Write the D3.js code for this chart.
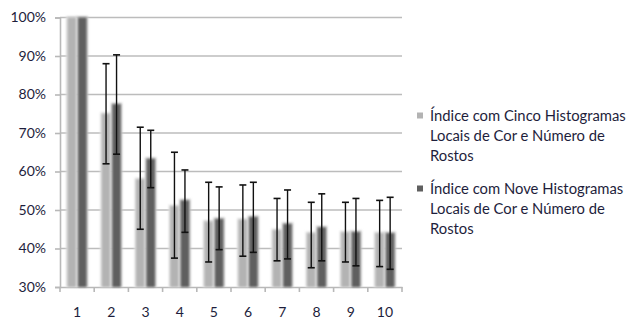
<!DOCTYPE html>
<html><head><meta charset="utf-8">
<script src="https://cdn.jsdelivr.net/npm/d3@7"></script>
<style>body{margin:0;background:#fff}svg{display:block}text{font-family:Lato,"Open Sans",sans-serif}</style>
</head><body><svg id="c" width="633" height="322"></svg>
<script>
const categories = ["1","2","3","4","5","6","7","8","9","10"];
const seriesNames = [
  ["Índice com Cinco Histogramas","Locais de Cor e Número de","Rostos"],
  ["Índice com Nove Histogramas","Locais de Cor e Número de","Rostos"]
];
const cincoValues = [100, 75, 58, 51, 47, 47.5, 44.8, 44, 44.2, 44];
const cincoLow    = [100, 62, 45, 37.5, 36.5, 38, 36.8, 35, 36.5, 35.3];
const cincoHigh   = [100, 88, 71.5, 65, 57.2, 56.5, 53, 52, 52, 52.5];
const noveValues  = [100, 77.5, 63.3, 52.5, 47.7, 48.2, 46.4, 45.5, 44.3, 44];
const noveLow     = [100, 64.5, 55.8, 44.2, 39.7, 39, 37.3, 36.8, 35.5, 34.6];
const noveHigh    = [100, 90.3, 70.7, 60.4, 56, 57.2, 55.2, 54.2, 53, 53.3];
const yTicks = [30, 40, 50, 60, 70, 80, 90, 100];

const svg = d3.select("#c");
const x = d3.scaleBand().domain(categories).range([60, 402]).padding(0);
const y = d3.scaleLinear().domain([30, 100]).range([287, 17.5]);

const defs = svg.append("defs");
defs.append("filter").attr("id","soft").attr("x","-50%").attr("width","200%")
  .append("feGaussianBlur").attr("stdDeviation", 0.8);

// gridlines
svg.append("g").selectAll("line").data(yTicks.filter(d => d > 30)).join("line")
  .attr("x1", 60).attr("x2", 402).attr("y1", d => y(d)).attr("y2", d => y(d))
  .attr("stroke", "#bcbcbc").attr("stroke-width", 1.6);

// y axis
const yAxis = d3.axisLeft(y).tickValues(yTicks).tickFormat(d => d + "%").tickSize(5).tickPadding(9);
const gy = svg.append("g").attr("transform","translate(60,0)").call(yAxis);
gy.select(".domain").attr("stroke","#b8b8b8").attr("stroke-width",1.6);
gy.selectAll(".tick line").attr("stroke","#b8b8b8").attr("stroke-width",1.6);
gy.selectAll("text").attr("fill","#1e1e3c").style("font-size","14px");

// x axis
const xAxis = d3.axisBottom(x).tickSize(0).tickPadding(20);
const gx = svg.append("g").attr("transform","translate(0,287)").call(xAxis);
gx.select(".domain").attr("stroke","#b8b8b8").attr("stroke-width",1.6);
gx.selectAll("text").attr("fill","#1e1e3c").style("font-size","14px");
svg.append("g").selectAll("line").data(d3.range(categories.length + 1)).join("line")
  .attr("x1", i => 60 + i * x.bandwidth()).attr("x2", i => 60 + i * x.bandwidth())
  .attr("y1", 287).attr("y2", 292).attr("stroke","#b8b8b8").attr("stroke-width",1.6);

const series = [
  {vals: cincoValues, lo: cincoLow, hi: cincoHigh, color: "#b3b3b3", glow: "#e2e2e2", off: -9.5},
  {vals: noveValues, lo: noveLow, hi: noveHigh, color: "#5f5f5f", glow: "#d0d0d0", off: 1}
];
const bw = 8.5;
series.forEach(s => {
  const g = svg.append("g");
  const data = categories.map((c, i) => ({c, v: s.vals[i], lo: s.lo[i], hi: s.hi[i]}));
  g.selectAll("rect.glow").data(data).join("rect").attr("class","glow")
    .attr("x", d => x(d.c) + x.bandwidth()/2 + s.off - 1.5).attr("width", bw + 3)
    .attr("y", d => y(d.v) - 1.5).attr("height", d => y(30) - y(d.v) + 1.5)
    .attr("fill", s.glow).attr("filter","url(#soft)");
  g.selectAll("rect.bar").data(data).join("rect").attr("class","bar")
    .attr("x", d => x(d.c) + x.bandwidth()/2 + s.off).attr("width", bw)
    .attr("y", d => y(d.v)).attr("height", d => y(30) - y(d.v))
    .attr("fill", s.color).attr("filter","url(#soft)");
});
series.forEach(s => {
  const g = svg.append("g");
  const data = categories.map((c, i) => ({c, v: s.vals[i], lo: s.lo[i], hi: s.hi[i]})).filter(d => d.hi > d.lo);
  const cx = d => x(d.c) + x.bandwidth()/2 + s.off + bw/2;
  g.selectAll("line.v").data(data).join("line").attr("class","v")
    .attr("x1", cx).attr("x2", cx).attr("y1", d => y(d.hi)).attr("y2", d => y(d.lo))
    .attr("stroke","#111").attr("stroke-width",1.4);
  ["hi","lo"].forEach(k => {
    g.selectAll("line." + k).data(data).join("line").attr("class", k)
      .attr("x1", d => cx(d) - 3.5).attr("x2", d => cx(d) + 3.5)
      .attr("y1", d => y(d[k])).attr("y2", d => y(d[k]))
      .attr("stroke","#111").attr("stroke-width",1.6);
  });
});

// legend
const legendTop = [116, 189];
const legColors = ["#b3b3b3", "#5f5f5f"];
seriesNames.forEach((lines, i) => {
  const g = svg.append("g");
  g.append("rect").attr("x", 417).attr("y", legendTop[i] - 3.5).attr("width", 6).attr("height", 6)
    .attr("fill", legColors[i]);
  g.selectAll("text").data(lines).join("text")
    .attr("x", 430).attr("y", (d, j) => legendTop[i] + j * 20 + 5)
    .attr("fill", "#1e1e3c").style("font-size", "14.8px").text(d => d);
});
</script></body></html>
